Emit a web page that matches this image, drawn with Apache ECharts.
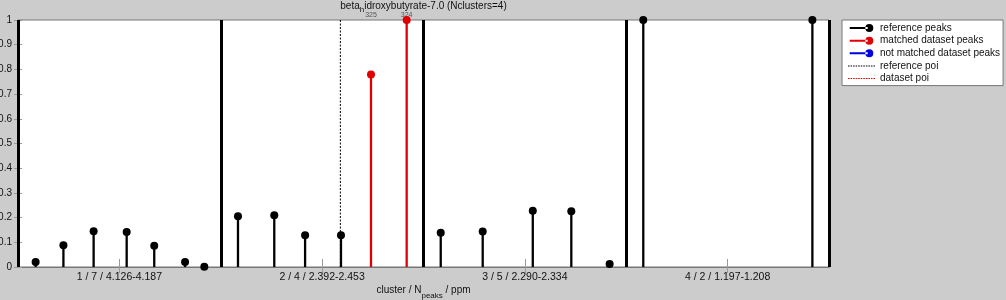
<!DOCTYPE html>
<html>
<head>
<meta charset="utf-8">
<script src="https://cdn.jsdelivr.net/npm/echarts@6/dist/echarts.min.js"></script>
<style>
html,body{margin:0;padding:0;background:#cccccc;}
#chart{width:1006px;height:300px;}
</style>
</head>
<body>
<div id="chart"></div>
<script>
// ---- data ----
var clusterLabels = ['1 / 7 / 4.126-4.187', '2 / 4 / 2.392-2.453', '3 / 5 / 2.290-2.334', '4 / 2 / 1.197-1.208'];
var clusterCenters = [0.5, 1.5, 2.5, 3.5];
var clusterBounds = [0, 1, 2, 3, 4];
var yTicks = [0, 0.1, 0.2, 0.3, 0.4, 0.5, 0.6, 0.7, 0.8, 0.9, 1];

var refPeakX = [0.087, 0.224, 0.373, 0.536, 0.672, 0.824, 0.919,
                1.085, 1.264, 1.416, 1.593,
                2.085, 2.292, 2.539, 2.729, 2.918,
                3.084, 3.918];
var refPeakY = [0.020, 0.088, 0.145, 0.142, 0.086, 0.020, 0.001,
                0.205, 0.210, 0.129, 0.129,
                0.139, 0.144, 0.228, 0.226, 0.012,
                1.000, 1.000];

var matchedX = [1.741, 1.917];
var matchedY = [0.779, 1.000];
var matchedLabels = ['325', '324'];

var notMatchedX = [];
var notMatchedY = [];

var refPoiX = [1.590];
var datasetPoiX = [];

// ---- helpers ----
function pairs(xs, ys, labels) {
  return xs.map(function (x, i) { return labels ? [x, ys[i], labels[i]] : [x, ys[i]]; });
}
function stemRenderer(color, withLabel) {
  return function (params, api) {
    var x = api.value(0), y = api.value(1);
    var p0 = api.coord([x, 0]);
    var p1 = api.coord([x, y]);
    var children = [
      { type: 'line', shape: { x1: p0[0], y1: p0[1], x2: p1[0], y2: p1[1] }, style: { stroke: color, lineWidth: 2.3 } },
      { type: 'circle', shape: { cx: p1[0], cy: p1[1], r: 4 }, style: { fill: color } }
    ];
    if (withLabel) {
      var pt = api.coord([x, 1]);
      children.unshift({ type: 'text', style: { text: String(api.value(2)), x: pt[0], y: pt[1] - 4.5, align: 'center', verticalAlign: 'middle', fontSize: 7, fill: '#555', fontFamily: 'Liberation Sans, Arial, sans-serif' } });
    }
    return { type: 'group', children: children };
  };
}
function poiLine(xs) {
  var d = [];
  xs.forEach(function (x) { d.push([x, 0], [x, 1], null); });
  return d;
}
var FONT = 'Liberation Sans, Arial, sans-serif';
var peakIcon = 'path://M0,3.0H18V5.0H0Z M15.6,4a4,4 0 1,0 8,0a4,4 0 1,0 -8,0Z';
var dashIcon = (function () {
  var s = 'path://';
  for (var x = 0; x < 26; x += 2.5) { s += 'M' + x + ',3.5H' + (x + 1.5) + 'V4.5H' + x + 'Z '; }
  return s;
})();

var chart = echarts.init(document.getElementById('chart'), null, { renderer: 'canvas' });
var option = {
  backgroundColor: '#cccccc',
  animation: false,
  textStyle: { fontFamily: FONT },
  title: {
    text: 'beta{s|h}idroxybutyrate-7.0 (Nclusters=4)',
    left: 423.5, top: 0.5, textAlign: 'center', padding: 0,
    textStyle: {
      fontSize: 10, fontWeight: 'normal', color: '#111', fontFamily: FONT, lineHeight: 12,
      rich: { s: { fontSize: 8, lineHeight: 8, padding: [7, 0, 0, 0], color: '#111', fontFamily: FONT } }
    }
  },
  legend: {
    orient: 'vertical', left: 842, top: 20,
    padding: [2, 3, 1, 6],
    backgroundColor: '#ffffff', borderColor: '#777', borderWidth: 1,
    itemWidth: 27, itemHeight: 8, itemGap: 0.65,
    symbolKeepAspect: true,
    textStyle: { fontSize: 10, color: '#111', fontFamily: FONT, lineHeight: 12 },
    data: [
      { name: 'reference peaks', icon: peakIcon },
      { name: 'matched dataset peaks', icon: peakIcon },
      { name: 'not matched dataset peaks', icon: peakIcon },
      { name: 'reference poi', icon: dashIcon },
      { name: 'dataset poi', icon: dashIcon }
    ]
  },
  grid: {
    left: 18, right: 177, top: 20, bottom: 33,
    containLabel: false, outerBoundsMode: 'none',
    show: true, backgroundColor: '#ffffff', borderColor: '#777', borderWidth: 1
  },
  xAxis: [{
    type: 'value', min: 0, max: 4, position: 'bottom',
    name: 'cluster / N{s|peaks} / ppm', nameLocation: 'middle', nameGap: 17.5,
    nameMoveOverlap: false,
    nameTextStyle: {
      fontSize: 10, color: '#111', fontFamily: FONT, lineHeight: 12,
      rich: { s: { fontSize: 8, lineHeight: 8, padding: [10, 0, 0, 0], color: '#111', fontFamily: FONT } }
    },
    axisLine: { show: true, lineStyle: { color: '#777', width: 1 } },
    axisTick: { show: true, inside: true, length: 8, customValues: clusterCenters, lineStyle: { color: '#999' } },
    axisLabel: {
      show: true, margin: 4.5, fontSize: 10.5, color: '#111', fontFamily: FONT,
      customValues: clusterCenters,
      formatter: function (v) { return clusterLabels[Math.floor(v)] || ''; }
    },
    splitLine: { show: false }
  }, {
    type: 'value', min: 0, max: 4, position: 'top',
    axisLine: { show: true, lineStyle: { color: '#777', width: 1 } },
    axisTick: { show: true, inside: true, length: 6, customValues: clusterCenters, lineStyle: { color: '#999' } },
    axisLabel: { show: false },
    splitLine: { show: false }
  }],
  yAxis: [{
    type: 'value', min: 0, max: 1, interval: 0.1, position: 'left',
    axisLine: { show: false },
    axisTick: { show: true, inside: true, length: 4, lineStyle: { color: '#999' } },
    axisLabel: { margin: 6, fontSize: 10, color: '#111', fontFamily: FONT,
      formatter: function (v) { var i = Math.round(v * 10); return String(yTicks[i]); } },
    splitLine: { show: false }
  }, {
    type: 'value', min: 0, max: 1, interval: 0.1, position: 'right',
    axisLine: { show: false },
    axisTick: { show: true, inside: true, length: 4, lineStyle: { color: '#999' } },
    axisLabel: { show: false },
    splitLine: { show: false }
  }],
  series: [
    {
      name: 'reference poi', type: 'line', xAxisIndex: 0, yAxisIndex: 0,
      data: poiLine(refPoiX), symbol: 'none', connectNulls: false,
      color: '#000',
      lineStyle: { color: '#000', width: 1, type: [2, 1.5] }, z: 2
    },
    {
      name: 'dataset poi', type: 'line', xAxisIndex: 0, yAxisIndex: 0,
      data: poiLine(datasetPoiX), symbol: 'none',
      color: '#e00000',
      lineStyle: { color: '#e00000', width: 1, type: [2, 1.5] }, z: 2
    },
    {
      name: 'reference peaks', type: 'custom', xAxisIndex: 0, yAxisIndex: 0, clip: false,
      itemStyle: { color: '#000' },
      encode: { x: 0, y: 1 },
      data: pairs(refPeakX, refPeakY),
      renderItem: stemRenderer('#000', false),
      z: 3,
      markLine: {
        silent: true, symbol: 'none', animation: false,
        label: { show: false },
        lineStyle: { color: '#000', width: 3, type: 'solid' },
        data: clusterBounds.map(function (b) { return { xAxis: b }; })
      }
    },
    {
      name: 'matched dataset peaks', type: 'custom', xAxisIndex: 0, yAxisIndex: 0, clip: false,
      itemStyle: { color: '#e00000' },
      encode: { x: 0, y: 1 },
      data: pairs(matchedX, matchedY, matchedLabels),
      renderItem: stemRenderer('#e00000', true),
      z: 4
    },
    {
      name: 'not matched dataset peaks', type: 'custom', xAxisIndex: 0, yAxisIndex: 0, clip: false,
      itemStyle: { color: '#0000e0' },
      encode: { x: 0, y: 1 },
      data: pairs(notMatchedX, notMatchedY),
      renderItem: stemRenderer('#0000e0', false),
      z: 4
    }
  ]
};
chart.setOption(option);
</script>
</body>
</html>
